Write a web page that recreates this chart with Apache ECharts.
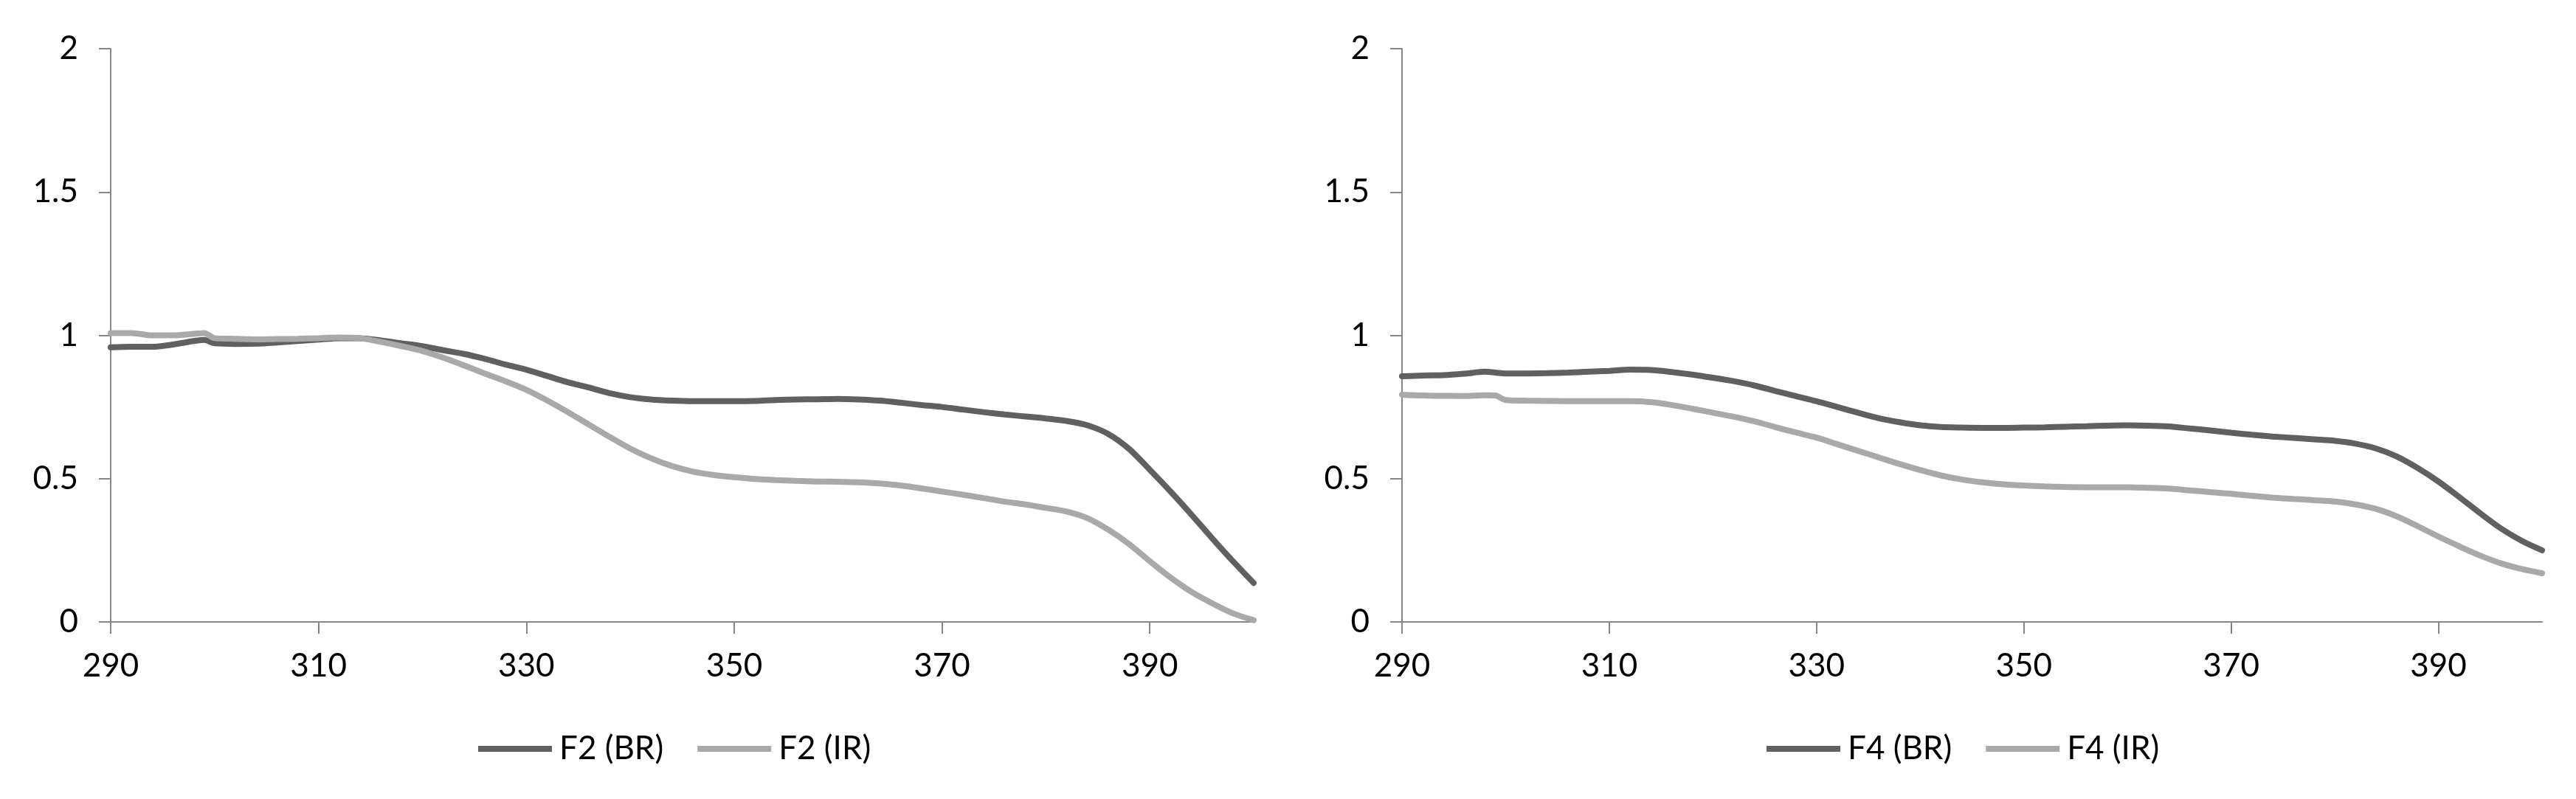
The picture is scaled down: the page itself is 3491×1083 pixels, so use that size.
<!DOCTYPE html>
<html>
<head>
<meta charset="utf-8">
<script src="https://cdn.jsdelivr.net/npm/echarts@6/dist/echarts.min.js"></script>
<style>
html,body{margin:0;padding:0;background:#fff;}
#chart{width:3491px;height:1083px;}
</style>
</head>
<body>
<div id="chart"></div>
<script>
const wavelengths = [290,292,294,296,298,299,300,302,304,306,308,310,312,314,316,318,320,322,324,326,328,330,332,334,336,338,340,342,344,346,348,350,352,354,356,358,360,362,364,366,368,370,372,374,376,378,380,382,384,386,388,390,392,394,396,398,400];

const f2BR = [0.958,0.960,0.960,0.968,0.980,0.984,0.972,0.970,0.971,0.975,0.980,0.985,0.990,0.990,0.982,0.972,0.962,0.948,0.935,0.918,0.898,0.880,0.858,0.836,0.818,0.798,0.784,0.776,0.772,0.770,0.770,0.770,0.771,0.774,0.776,0.777,0.778,0.776,0.772,0.765,0.757,0.750,0.741,0.732,0.724,0.717,0.710,0.701,0.686,0.656,0.604,0.531,0.455,0.375,0.292,0.212,0.136];
const f2IR = [1.008,1.008,1.000,1.000,1.005,1.008,0.990,0.988,0.986,0.987,0.988,0.990,0.992,0.990,0.977,0.962,0.945,0.922,0.895,0.867,0.840,0.810,0.773,0.732,0.689,0.646,0.605,0.571,0.544,0.525,0.513,0.505,0.499,0.495,0.492,0.490,0.489,0.487,0.483,0.476,0.466,0.455,0.444,0.432,0.420,0.410,0.398,0.385,0.362,0.322,0.272,0.212,0.155,0.105,0.065,0.030,0.006];
const f4BR = [0.857,0.860,0.861,0.866,0.873,0.870,0.867,0.867,0.868,0.870,0.873,0.876,0.880,0.879,0.872,0.863,0.852,0.840,0.825,0.806,0.788,0.770,0.750,0.730,0.711,0.697,0.686,0.680,0.678,0.677,0.677,0.678,0.679,0.681,0.683,0.685,0.686,0.685,0.682,0.675,0.668,0.660,0.653,0.647,0.642,0.637,0.632,0.622,0.605,0.577,0.537,0.490,0.436,0.380,0.327,0.284,0.250];
const f4IR = [0.793,0.790,0.789,0.788,0.791,0.790,0.774,0.772,0.771,0.770,0.770,0.770,0.770,0.767,0.757,0.744,0.730,0.716,0.700,0.680,0.661,0.643,0.620,0.597,0.574,0.551,0.530,0.511,0.497,0.487,0.480,0.476,0.473,0.471,0.470,0.470,0.470,0.468,0.465,0.459,0.453,0.447,0.440,0.434,0.429,0.425,0.420,0.410,0.394,0.368,0.334,0.298,0.264,0.232,0.205,0.185,0.170];

const xTickValues = [290,310,330,350,370,390];
const seriesNames = ['F2 (BR)','F2 (IR)','F4 (BR)','F4 (IR)'];

const darkColor = '#606060';
const lightColor = '#a9a9a9';
const axisColor = '#878787';
const fontFamily = 'Lato, "Open Sans", sans-serif';
const fontSize = 44;

function pairs(xs, ys){ return xs.map((x,i)=>[x, ys[i]]); }

function xAxisCfg(gi){
  return {
    type:'value', gridIndex:gi, min:290, max:400,
    axisLine:{show:true, lineStyle:{color:axisColor, width:2}},
    axisTick:{show:true, length:16, lineStyle:{color:axisColor, width:2}, customValues:xTickValues},
    axisLabel:{show:true, margin:38, color:'#000', fontFamily, fontSize, customValues:xTickValues},
    splitLine:{show:false}
  };
}
function yAxisCfg(gi){
  return {
    type:'value', gridIndex:gi, min:0, max:2, interval:0.5,
    axisLine:{show:true, lineStyle:{color:axisColor, width:2}},
    axisTick:{show:true, length:16, lineStyle:{color:axisColor, width:2}},
    axisLabel:{show:true, margin:44, color:'#000', fontFamily, fontSize},
    splitLine:{show:false}
  };
}
function lineSeries(name, gi, data, color){
  return {
    name, type:'line', xAxisIndex:gi, yAxisIndex:gi,
    data, showSymbol:false, smooth:0.3,
    lineStyle:{color, width:8, cap:'round'},
    itemStyle:{color},
    animation:false
  };
}
function legendCfg(names, left){
  return {
    data:names, left, top:988, orient:'horizontal',
    icon:'rect', itemWidth:100, itemHeight:8, itemGap:46,
    textStyle:{color:'#000', fontFamily, fontSize, padding:[0,0,0,5]}
  };
}

const chart = echarts.init(document.getElementById('chart'), null, {renderer:'canvas'});
chart.setOption({
  backgroundColor:'#ffffff',
  animation:false,
  grid:[
    {left:150, top:66, width:1549, height:777},
    {left:1900, top:66, width:1545, height:777}
  ],
  xAxis:[xAxisCfg(0), xAxisCfg(1)],
  yAxis:[yAxisCfg(0), yAxisCfg(1)],
  legend:[
    legendCfg([seriesNames[0], seriesNames[1]], 643),
    legendCfg([seriesNames[2], seriesNames[3]], 2389)
  ],
  series:[
    lineSeries(seriesNames[0], 0, pairs(wavelengths, f2BR), darkColor),
    lineSeries(seriesNames[1], 0, pairs(wavelengths, f2IR), lightColor),
    lineSeries(seriesNames[2], 1, pairs(wavelengths, f4BR), darkColor),
    lineSeries(seriesNames[3], 1, pairs(wavelengths, f4IR), lightColor)
  ]
});
</script>
</body>
</html>
